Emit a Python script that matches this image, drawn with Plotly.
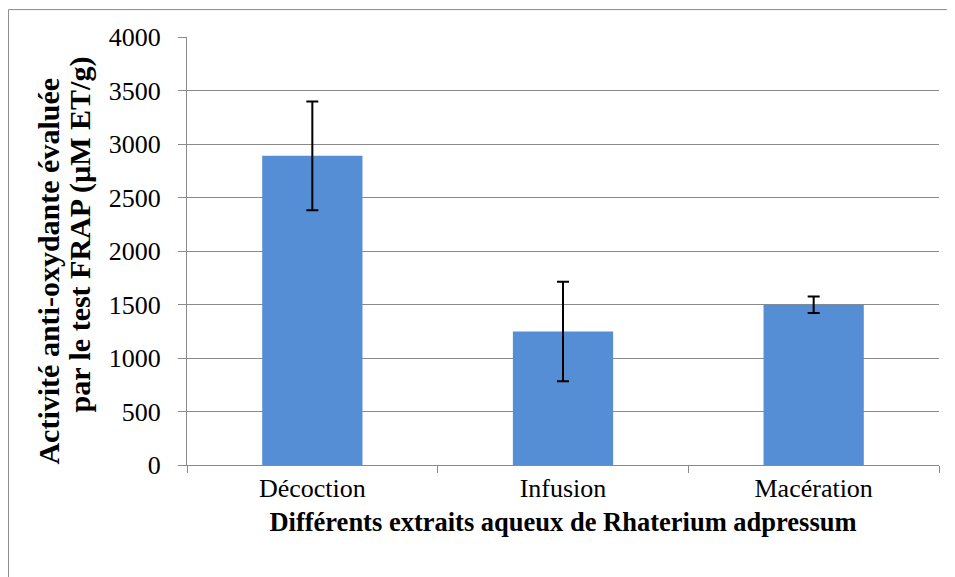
import plotly.graph_objects as go

extraits = ["Décoction", "Infusion", "Macération"]
activite = [2890, 1248, 1497]
ecart = [508, 465, 77]

titre_y = ["<b>Activité anti-oxydante évaluée</b>", "<b>par le test FRAP (µM ET/g)</b>"]
titre_x = "<b>Différents extraits aqueux de Rhaterium adpressum</b>"

police = "Liberation Serif"
gris = "#8a8a8a"

fig = go.Figure()
fig.add_trace(go.Bar(
    x=extraits,
    y=activite,
    marker=dict(color="#558ed5", line=dict(width=0)),
    width=0.4,
    error_y=dict(type="data", array=ecart, visible=True, color="black", thickness=2, width=6),
))

fig.update_layout(
    width=955,
    height=577,
    margin=dict(l=179, r=24, t=29, b=120),
    paper_bgcolor="white",
    plot_bgcolor="white",
    showlegend=False,
    font=dict(family=police, color="black"),
    xaxis=dict(
        showline=True, linecolor=gris, linewidth=1,
        ticks="outside", tickson="boundaries", ticklen=7, tickcolor=gris,
        tickfont=dict(family=police, size=26, color="black"),
        title=dict(text=titre_x, font=dict(family=police, size=26.5, color="black"), standoff=10),
    ),
    yaxis=dict(
        range=[0, 4000], dtick=500,
        showline=True, linecolor=gris, linewidth=1,
        showgrid=True, gridcolor=gris, gridwidth=1,
        ticks="outside", ticklen=8, tickcolor=gris,
        tickfont=dict(family=police, size=26, color="black"),
        ticklabelstandoff=12,
        zeroline=False,
    ),
    shapes=[dict(type="rect", xref="paper", yref="paper",
                 x0=-0.2374, x1=1.2, y0=-0.5, y1=1.064,
                 line=dict(color=gris, width=1), layer="below")],
)

# titre de l'axe Y sur deux lignes rapprochées
for texte, xp, yp in [(titre_y[0], -0.1835, 0.452), (titre_y[1], -0.1423, 0.5386)]:
    fig.add_annotation(text=texte, xref="paper", yref="paper", x=xp, y=yp,
                       xanchor="center", yanchor="middle", textangle=-90, showarrow=False,
                       font=dict(family=police, size=30, color="black"))

fig.write_html("out.html")
